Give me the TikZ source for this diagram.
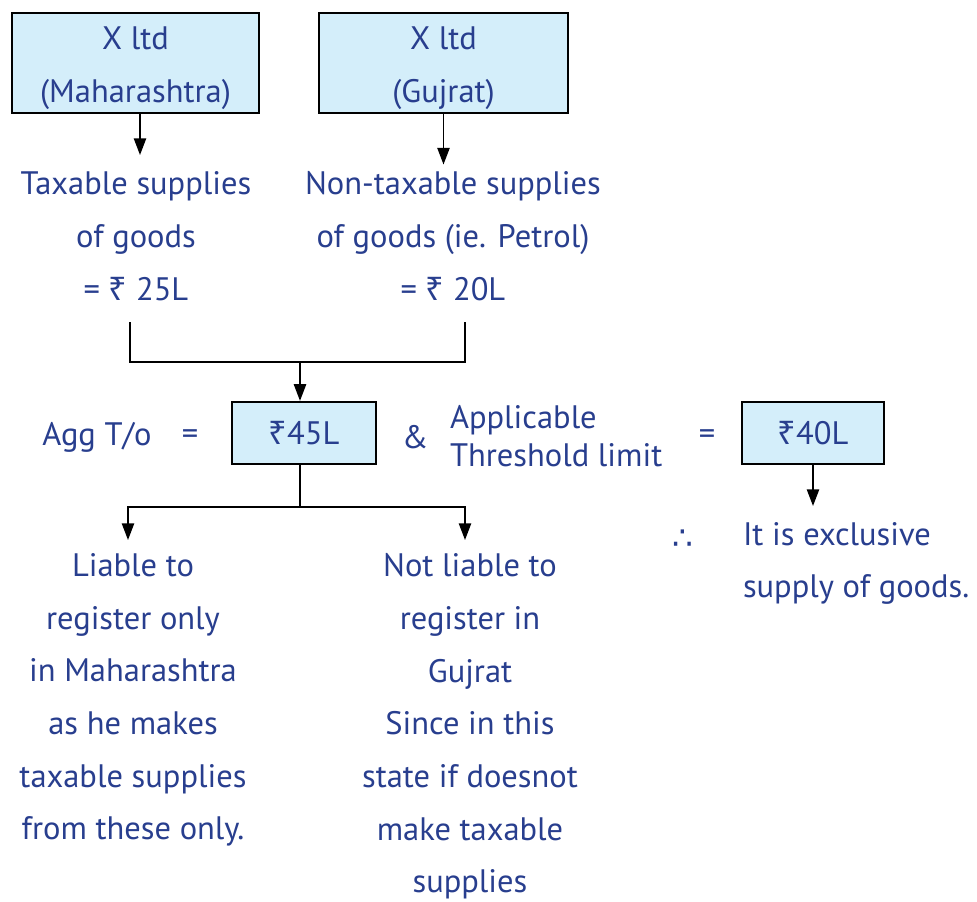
\documentclass[tikz,border=0pt]{standalone}
\usepackage{fontspec}
\setmainfont{PT Sans}
\newfontfamily\rupeefont{Noto Sans}
\newfontfamily\symfont{DejaVu Sans}
\usetikzlibrary{arrows.meta}
\definecolor{txtblue}{RGB}{40,62,142}
\definecolor{boxfill}{RGB}{212,238,250}
\newcommand{\rs}{{\rupeefont ₹}}
\newcommand{\twolines}[2]{\smash{\raisebox{-5.7pt}{\begin{tabular}{@{}c@{}}#1\\#2\end{tabular}}}}
\tikzset{
  box/.style={draw=black, line width=1.3pt, fill=boxfill, text=txtblue, align=center},
  txt/.style={text=txtblue, align=center, inner sep=0pt, outer sep=4pt},
  line/.style={line width=0.9pt},
  arr/.style={line width=0.9pt, -{Triangle[length=9.5pt,width=7pt]}},
}
\begin{document}
\begin{tikzpicture}[x=0.02cm, y=-0.02cm, font=\fontsize{18.5}{30}\selectfont]
    \useasboundingbox (0,0) rectangle (977,902);

    % the two units
    \node[box, inner sep=0pt, minimum width=4.94cm, minimum height=2cm] (mah) at (135.5,63) {\twolines{X ltd}{(Maharashtra)}};
    \node[box, inner sep=0pt, minimum width=4.98cm, minimum height=2cm] (guj) at (443.5,63) {\twolines{X ltd}{(Gujrat)}};

    % supplies of each unit
    \node[txt] (taxs) at (136,236) {Taxable supplies\\of goods\\= \rs{} 25L};
    \node[txt] (ntaxs) at (453,236) {Non-taxable supplies\\of goods (ie. Petrol)\\= \rs{} 20L};

    \draw[arr] (mah.south -| 140,0) -- (140,155);
    \draw[arr] (guj.south) -- (guj.south |- ntaxs.north);

    % joining both
    \coordinate (jl) at (130,322);
    \coordinate (jr) at (465,322);
    \coordinate (jm) at (300,362);
    \draw[line] (jl) |- (jm) -| (jr);

    % aggregate turnover and threshold
    \node[txt] (agg) at (97,437) {Agg T/o};
    \node[txt] (eqa) at (190,437) {=};
    \node[box, minimum width=2.88cm, minimum height=1.24cm] (tot) at (304,433) {\rs45L};
    \draw[arr] (jm) -- (jm |- tot.north);
    \node[txt] (amp) at (415,437) {\&};
    \node[txt, align=left, anchor=west, font=\fontsize{18.5}{21.5}\selectfont] (thr) at (443,436) {Applicable\\Threshold limit};
    \node[txt] (eqb) at (707,437) {=};
    \node[box, minimum width=2.84cm, minimum height=1.24cm] (lim) at (813,433) {\rs40L};

    % consequences
    \coordinate (sm) at (300,507);
    \coordinate (sl) at (128,507);
    \coordinate (sr) at (465,507);
    \draw[line] (tot.south -| sm) -- (sm);
    \draw[arr] (sm) -- (sl) -- (128,540);
    \draw[arr] (sm) -- (sr) -- (465,540);
    \draw[arr] (lim.south) -- (813,506);

    \node[txt] (liab) at (133,700) {Liable to\\register only\\in Maharashtra\\as he makes\\taxable supplies\\from these only.};
    \node[txt] (nliab) at (470,726.5) {Not liable to\\register in\\Gujrat\\Since in this\\state if doesnot\\make taxable\\supplies};

    \node[txt] (ther) at (683,540) {\symfont ∴};
    \node[txt, align=left, anchor=west] (excl) at (736,563.5) {It is exclusive\\supply of goods.};
\end{tikzpicture}
\end{document}
